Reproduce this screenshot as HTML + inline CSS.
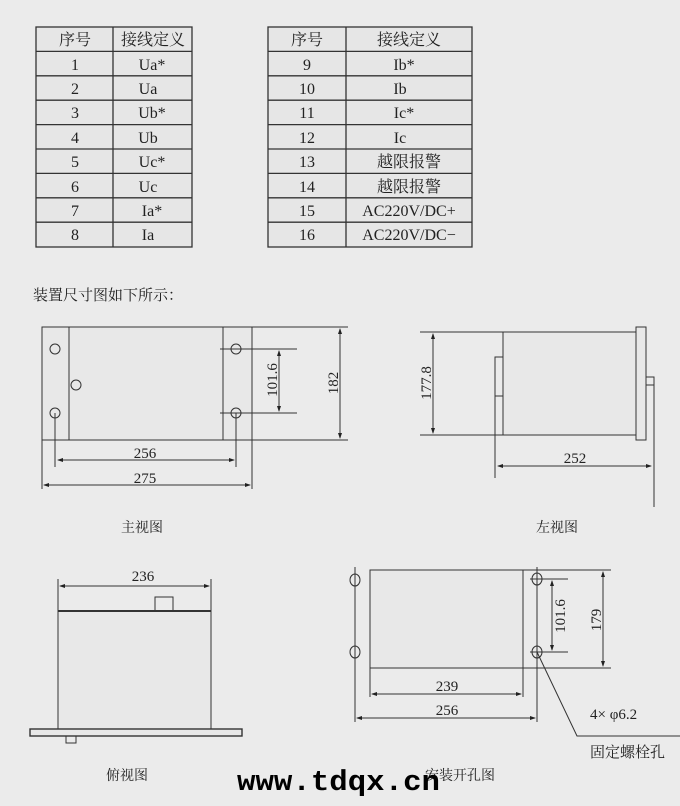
<!DOCTYPE html>
<html><head><meta charset="utf-8"><style>
html,body{margin:0;padding:0;background:#ebebeb;}
svg{display:block;}
text{font-family:"Liberation Serif","Noto Serif CJK SC",serif;fill:#222;}
</style></head><body>
<svg width="680" height="806" viewBox="0 0 680 806" xmlns="http://www.w3.org/2000/svg">
<defs>
<marker id="a" markerWidth="6" markerHeight="6" refX="5" refY="3" orient="auto-start-reverse" markerUnits="userSpaceOnUse"><path d="M0,1 L6,3 L0,5 z" fill="#222"/></marker>
</defs>
<rect width="680" height="806" fill="#ebebeb"/>
<g stroke="#333" stroke-width="1.3" fill="none">
<rect x="36" y="27" width="156" height="220" fill="#e6e6e6"/>
<line x1="113" y1="27" x2="113" y2="247"/>
<line x1="36" y1="51.4" x2="192" y2="51.4"/><line x1="36" y1="75.8" x2="192" y2="75.8"/><line x1="36" y1="100.2" x2="192" y2="100.2"/><line x1="36" y1="124.6" x2="192" y2="124.6"/><line x1="36" y1="149" x2="192" y2="149"/><line x1="36" y1="173.4" x2="192" y2="173.4"/><line x1="36" y1="197.8" x2="192" y2="197.8"/><line x1="36" y1="222.2" x2="192" y2="222.2"/>
<rect x="268" y="27" width="204" height="220" fill="#e6e6e6"/>
<line x1="346" y1="27" x2="346" y2="247"/>
<line x1="268" y1="51.4" x2="472" y2="51.4"/><line x1="268" y1="75.8" x2="472" y2="75.8"/><line x1="268" y1="100.2" x2="472" y2="100.2"/><line x1="268" y1="124.6" x2="472" y2="124.6"/><line x1="268" y1="149" x2="472" y2="149"/><line x1="268" y1="173.4" x2="472" y2="173.4"/><line x1="268" y1="197.8" x2="472" y2="197.8"/><line x1="268" y1="222.2" x2="472" y2="222.2"/>
</g>
<g font-size="16" text-anchor="middle">
<text x="75" y="45">序号</text><text x="153" y="45">接线定义</text>
<text x="75" y="70">1</text><text x="152" y="70">Ua*</text>
<text x="75" y="94">2</text><text x="148" y="94">Ua</text>
<text x="75" y="118">3</text><text x="152" y="118">Ub*</text>
<text x="75" y="143">4</text><text x="148" y="143">Ub</text>
<text x="75" y="167">5</text><text x="152" y="167">Uc*</text>
<text x="75" y="192">6</text><text x="148" y="192">Uc</text>
<text x="75" y="216">7</text><text x="152" y="216">Ia*</text>
<text x="75" y="240">8</text><text x="148" y="240">Ia</text>
<text x="307" y="45">序号</text><text x="409" y="45">接线定义</text>
<text x="307" y="70">9</text><text x="404" y="70">Ib*</text>
<text x="307" y="94">10</text><text x="400" y="94">Ib</text>
<text x="307" y="118">11</text><text x="404" y="118">Ic*</text>
<text x="307" y="143">12</text><text x="400" y="143">Ic</text>
<text x="307" y="167">13</text><text x="409" y="167">越限报警</text>
<text x="307" y="192">14</text><text x="409" y="192">越限报警</text>
<text x="307" y="216">15</text><text x="409" y="216">AC220V/DC+</text>
<text x="307" y="240">16</text><text x="409" y="240">AC220V/DC−</text>
</g>
<text x="33" y="300" font-size="15">装置尺寸图如下所示：</text>

<g stroke="#333" stroke-width="1" fill="none">
<rect x="42" y="327" width="210" height="113" fill="#e8e8e8"/>
<line x1="69" y1="327" x2="69" y2="440"/><line x1="223" y1="327" x2="223" y2="440"/>
<line x1="252" y1="327" x2="348" y2="327"/><line x1="252" y1="440" x2="348" y2="440"/>
<circle cx="55" cy="349" r="5"/><circle cx="55" cy="413" r="5"/><circle cx="76" cy="385" r="5"/>
<circle cx="236" cy="349" r="5"/><circle cx="236" cy="413" r="5"/>
<line x1="220" y1="349" x2="297" y2="349"/><line x1="220" y1="413" x2="297" y2="413"/>
<line x1="279" y1="351" x2="279" y2="411" marker-start="url(#a)" marker-end="url(#a)"/>
<line x1="340" y1="329" x2="340" y2="438" marker-start="url(#a)" marker-end="url(#a)"/>
<line x1="55" y1="413" x2="55" y2="467"/><line x1="236" y1="413" x2="236" y2="467"/>
<line x1="58" y1="460" x2="234" y2="460" marker-start="url(#a)" marker-end="url(#a)"/>
<line x1="42" y1="440" x2="42" y2="489"/><line x1="252" y1="440" x2="252" y2="489"/>
<line x1="44" y1="485" x2="250" y2="485" marker-start="url(#a)" marker-end="url(#a)"/>
<rect x="503" y="332" width="133" height="103" fill="#e8e8e8"/>
<rect x="636" y="327" width="10" height="113" fill="#e8e8e8"/>
<rect x="646" y="377" width="8" height="8"/>
<rect x="495" y="357" width="8" height="39"/>
<line x1="495" y1="396" x2="495" y2="478"/>
<line x1="654" y1="385" x2="654" y2="507"/>
<line x1="420" y1="332" x2="503" y2="332"/><line x1="420" y1="435" x2="503" y2="435"/>
<line x1="433" y1="334" x2="433" y2="433" marker-start="url(#a)" marker-end="url(#a)"/>
<line x1="498" y1="466" x2="651" y2="466" marker-start="url(#a)" marker-end="url(#a)"/>
<line x1="58" y1="579" x2="58" y2="611"/><line x1="211" y1="579" x2="211" y2="611"/>
<line x1="60" y1="586" x2="209" y2="586" marker-start="url(#a)" marker-end="url(#a)"/>
<rect x="58" y="611" width="153" height="118" fill="#e8e8e8"/>
<line x1="58" y1="611" x2="211" y2="611" stroke-width="2"/>
<rect x="155" y="597" width="18" height="14"/>
<rect x="30" y="729" width="212" height="7" fill="#e8e8e8" stroke-width="1.4"/>
<rect x="66" y="736" width="10" height="7"/>
<rect x="370" y="570" width="153" height="98" fill="#e8e8e8"/>
<line x1="355" y1="567" x2="355" y2="722"/><line x1="537" y1="567" x2="537" y2="722"/>
<ellipse cx="355" cy="580" rx="5" ry="6"/><ellipse cx="355" cy="652" rx="5" ry="6"/>
<ellipse cx="537" cy="579" rx="5" ry="6"/><ellipse cx="537" cy="652" rx="5" ry="6"/>
<line x1="523" y1="570" x2="611" y2="570"/><line x1="523" y1="668" x2="611" y2="668"/>
<line x1="530" y1="579" x2="568" y2="579"/><line x1="530" y1="652" x2="568" y2="652"/>
<line x1="552" y1="581" x2="552" y2="650" marker-start="url(#a)" marker-end="url(#a)"/>
<line x1="603" y1="572" x2="603" y2="666" marker-start="url(#a)" marker-end="url(#a)"/>
<line x1="370" y1="668" x2="370" y2="697"/><line x1="523" y1="668" x2="523" y2="697"/>
<line x1="372" y1="694" x2="521" y2="694" marker-start="url(#a)" marker-end="url(#a)"/>
<line x1="357" y1="718" x2="535" y2="718" marker-start="url(#a)" marker-end="url(#a)"/>
<polyline points="537,652 577,736 680,736"/>
</g>
<g font-size="15" text-anchor="middle">
<text x="145" y="458">256</text>
<text x="145" y="483">275</text>
<text transform="translate(277,380) rotate(-90)" x="0" y="0">101.6</text>
<text transform="translate(338,383) rotate(-90)" x="0" y="0">182</text>
<text transform="translate(431,383) rotate(-90)" x="0" y="0">177.8</text>
<text x="575" y="463">252</text>
<text x="143" y="581">236</text>
<text transform="translate(565,616) rotate(-90)" x="0" y="0">101.6</text>
<text transform="translate(601,620) rotate(-90)" x="0" y="0">179</text>
<text x="447" y="691">239</text>
<text x="447" y="715">256</text>
</g>
<g font-size="14">
<text x="121" y="532">主视图</text>
<text x="536" y="532">左视图</text>
<text x="106" y="780">俯视图</text>
<text x="425" y="780">安装开孔图</text>
<text x="590" y="719" font-size="15">4× φ6.2</text>
<text x="590" y="757" font-size="15">固定螺栓孔</text>
</g>
<text x="237" y="790" font-size="29" textLength="203" lengthAdjust="spacingAndGlyphs" style="font-family:'Liberation Mono','DejaVu Sans Mono',monospace;font-weight:bold;fill:#000">www.tdqx.cn</text>
</svg>
</body></html>
